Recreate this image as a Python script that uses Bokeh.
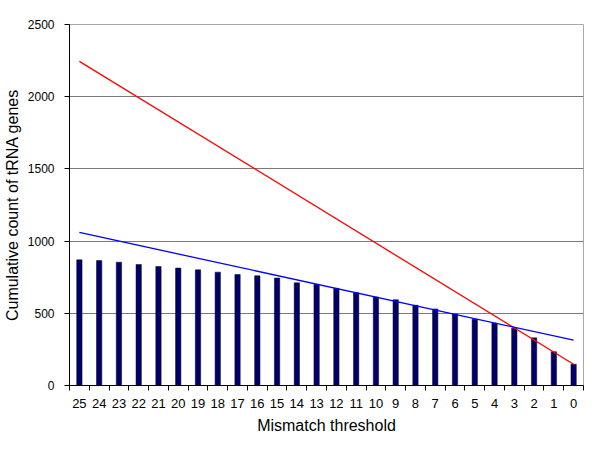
from bokeh.plotting import figure
from bokeh.models import Range1d, FixedTicker, ColumnDataSource
from bokeh.embed import file_html
from bokeh.resources import INLINE

thresholds = [25, 24, 23, 22, 21, 20, 19, 18, 17, 16, 15, 14, 13, 12, 11, 10, 9, 8, 7, 6, 5, 4, 3, 2, 1, 0]
counts = [870, 865, 854, 838, 824, 813, 801, 785, 769, 760, 744, 711, 700, 673, 643, 613, 594, 556, 530, 496, 459, 432, 397, 330, 234, 147]
red_trend_ends = [2245, 147]   # at thresholds 25 and 0
blue_trend_ends = [1060, 314]  # at thresholds 25 and 0
y_ticks = [0, 500, 1000, 1500, 2000, 2500]

n = len(thresholds)
xpos = [i + 0.5 for i in range(n)]
end_x = [xpos[0], xpos[-1]]

FONT = "Liberation Sans"

p = figure(width=584, height=436, output_backend="svg", toolbar_location=None,
           x_range=Range1d(0, n), y_range=Range1d(0, 2500),
           min_border_left=0, min_border_right=1, min_border_top=24, min_border_bottom=0)
p.background_fill_color = "white"
p.border_fill_color = "white"
p.outline_line_color = "#a8a8a8"

src = ColumnDataSource(dict(x=xpos, top=counts))
p.vbar(x="x", top="top", bottom=0, width=0.27, source=src,
       fill_color="#000066", line_color="#000033", line_width=0.5)

p.line(end_x, red_trend_ends, line_color="#ff0000", line_width=1.3)
p.line(end_x, blue_trend_ends, line_color="#0000ff", line_width=1.3)

# x axis: labels at category centres, tick marks at boundaries
xa = p.xaxis[0]
xa.ticker = FixedTicker(ticks=xpos, minor_ticks=list(range(n + 1)))
xa.major_label_overrides = {xpos[i]: str(thresholds[i]) for i in range(n)}
xa.major_tick_line_color = None
xa.minor_tick_line_color = "black"
xa.minor_tick_out = 5
xa.minor_tick_in = 0
xa.axis_line_color = "black"
xa.major_label_text_font = FONT
xa.major_label_text_font_size = "13px"
xa.major_label_text_color = "black"
xa.major_label_standoff = 7
xa.axis_label = "Mismatch threshold"
xa.axis_label_text_font = FONT
xa.axis_label_text_font_style = "normal"
xa.axis_label_text_font_size = "16px"
xa.axis_label_text_color = "black"
xa.axis_label_standoff = 6

ya = p.yaxis[0]
ya.ticker = FixedTicker(ticks=y_ticks)
ya.minor_tick_line_color = None
ya.major_tick_out = 5
ya.major_tick_in = 0
ya.axis_line_color = "black"
ya.major_tick_line_color = "black"
ya.major_label_text_font = FONT
ya.major_label_text_font_size = "12px"
ya.major_label_text_color = "black"
ya.major_label_standoff = 10
ya.axis_label = "Cumulative count of tRNA genes"
ya.axis_label_text_font = FONT
ya.axis_label_text_font_style = "normal"
ya.axis_label_text_font_size = "16px"
ya.axis_label_text_color = "black"
ya.axis_label_standoff = 4

p.xgrid.grid_line_color = None
p.ygrid.ticker = FixedTicker(ticks=y_ticks)
p.ygrid.grid_line_color = "#7a7a7a"
p.ygrid.grid_line_width = 1

open("out.html", "w").write(file_html(p, INLINE))
